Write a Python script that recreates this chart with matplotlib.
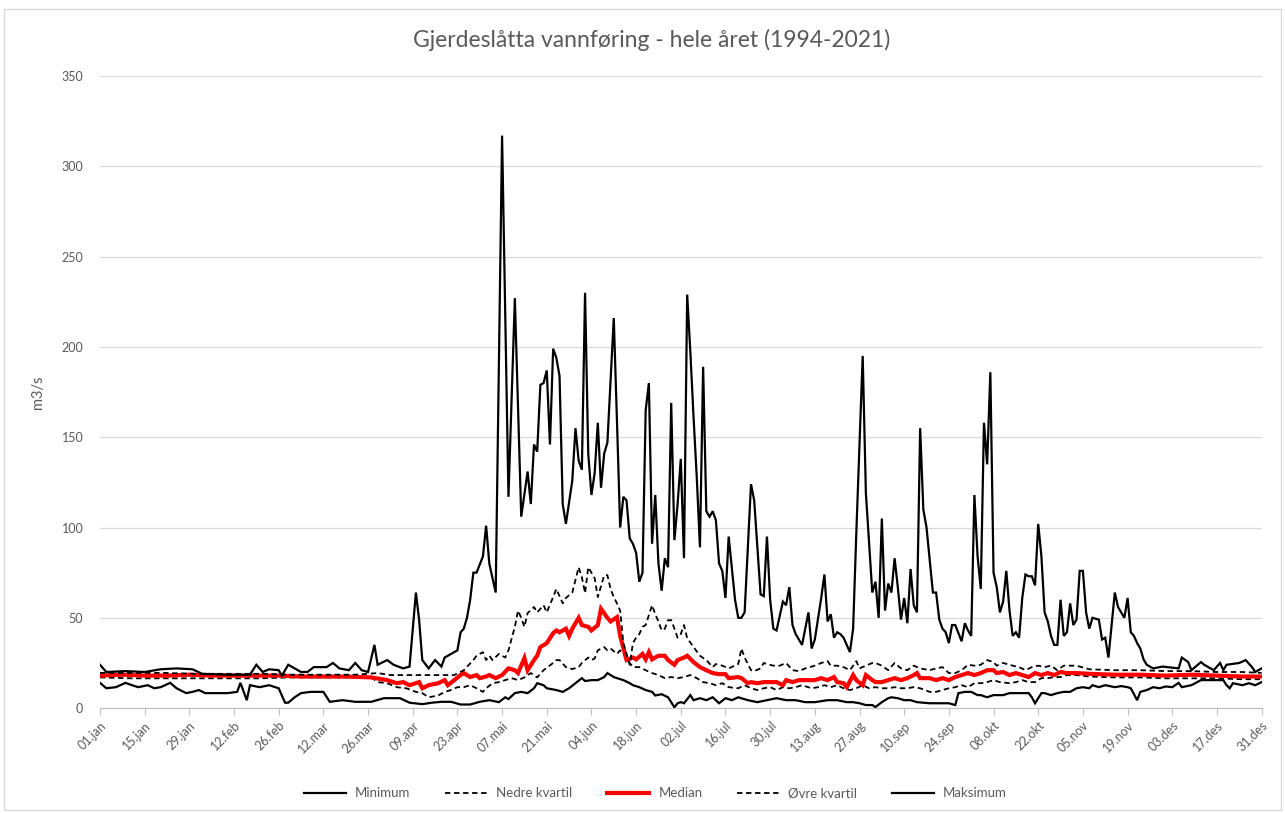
import matplotlib
matplotlib.use("Agg")
import matplotlib.pyplot as plt
from matplotlib.patches import Rectangle

# (day of year, m3/s)
minimum = [(0, 14), (2, 11), (5, 11.6), (8, 14), (10, 12.7), (12, 11.6), (15, 12.7), (17, 11), (19, 11.6),
           (22, 14), (24, 11), (27, 8.3), (29, 9), (31, 10), (33, 8.3), (36, 8.3), (40, 8.3), (43, 9),
           (44, 14), (46, 4.4), (47, 12.7), (50, 11.6), (53, 12.7), (56, 11), (58, 3), (59, 3), (61, 6),
           (63, 8.3), (66, 9), (70, 9), (72, 3.5), (76, 4.4), (80, 3.5), (85, 3.5), (89, 5.5), (94, 5.5),
           (97, 3), (101, 2.2), (104, 3), (107, 3.5), (110, 3.5), (113, 2), (116, 2), (119, 3.5), (122, 4.4),
           (125, 3.3), (127, 6), (128, 5), (130, 8.3), (132, 9), (134, 8.3), (136, 11), (137, 13.8),
           (139, 12.7), (140, 11), (143, 10), (145, 9), (147, 11), (149, 13.8), (151, 16.6), (152, 15),
           (154, 15.5), (156, 15.5), (158, 17.2), (159, 19.4), (161, 17.2), (162, 16.6), (164, 15.5),
           (166, 13.8), (167, 12.7), (169, 11.6), (171, 10), (173, 9), (174, 7), (176, 7.7), (178, 6),
           (180, 0.5), (181, 2.7), (182, 3.3), (183, 2.7), (185, 7.2), (186, 4.4), (188, 5.5), (190, 4.4),
           (192, 6), (194, 2.7), (196, 5.5), (198, 4.4), (200, 6), (203, 4.4), (206, 3.3), (209, 4.4),
           (212, 5.5), (215, 4.4), (218, 4.4), (221, 3.3), (224, 3.3), (228, 4.4), (231, 4.4), (234, 3.3),
           (236, 3.3), (238, 2.7), (240, 1.7), (242, 1.7), (243, 0.6), (245, 3.3), (247, 5.5), (248, 6),
           (250, 5.5), (252, 4.4), (254, 4.4), (256, 3.3), (260, 2.7), (263, 2.7), (266, 2.7), (268, 1.7),
           (269, 8.3), (271, 9), (273, 9), (275, 7.2), (276, 7.2), (278, 6), (280, 7.2), (283, 7.2),
           (285, 8.3), (287, 8.3), (289, 8.3), (291, 8.3), (292, 6), (293, 2.7), (295, 8.3), (296, 8.3),
           (298, 7.2), (300, 8.3), (302, 9), (304, 9), (306, 11), (308, 11.6), (310, 11), (311, 12.7),
           (313, 11.6), (315, 12.7), (318, 11.6), (320, 12.2), (322, 11.6), (323, 11), (325, 4.4), (326, 9),
           (328, 10), (330, 11.6), (332, 11), (334, 12), (336, 11.6), (338, 14), (339, 11.6), (342, 12.7),
           (344, 14.6), (345, 15.5), (348, 15.5), (352, 15.5), (353, 12.7), (354, 11), (355, 13.8),
           (358, 12.7), (360, 13.8), (362, 12.7), (364, 14.4)]

nedre = [(0, 17), (10, 16.5), (20, 16.5), (30, 16.5), (40, 16.5), (50, 16.5), (60, 17), (70, 17), (80, 17),
         (85, 17), (87, 14.4), (90, 13.8), (93, 11.6), (96, 11), (99, 9), (101, 8.3), (103, 6), (106, 7),
         (108, 9), (110, 10), (112, 11.6), (114, 11.6), (116, 12.7), (118, 11), (120, 9), (121, 11),
         (123, 13.8), (125, 14.4), (127, 15.5), (129, 16.6), (131, 15.5), (133, 17), (135, 19.4), (137, 17),
         (139, 21), (142, 25), (143, 26.6), (144, 26.6), (146, 22.7), (148, 21.6), (150, 22.7), (151, 25),
         (153, 28), (154, 26.6), (155, 27.5), (156, 32), (158, 33.8), (159, 32), (160, 33), (162, 30),
         (163, 32), (164, 30), (166, 25), (167, 22.7), (169, 22.7), (171, 21), (173, 19.4), (175, 18.3),
         (177, 16.6), (179, 17.2), (181, 16.6), (183, 17.2), (185, 18.3), (187, 16.6), (189, 14.4),
         (191, 13.8), (193, 12.7), (195, 13.8), (197, 11.6), (200, 11), (202, 12.7), (204, 11), (206, 10),
         (208, 11), (210, 11.6), (212, 10), (214, 11.6), (216, 11), (218, 11.6), (220, 12.7), (223, 11),
         (225, 11.6), (227, 12.7), (229, 11.6), (231, 12.7), (233, 11), (235, 10), (237, 11), (239, 12.7),
         (241, 11), (243, 11.6), (245, 11), (247, 11), (249, 11.6), (251, 11), (253, 11), (255, 11.6),
         (257, 11), (260, 9), (262, 9), (264, 10), (266, 11), (268, 11.6), (270, 12.7), (272, 11.6),
         (274, 13.8), (276, 13.8), (278, 14.4), (280, 15.5), (282, 14.4), (285, 13.8), (287, 14.4),
         (289, 15.5), (291, 14.4), (293, 14.4), (295, 16.6), (297, 16.6), (299, 17.2), (301, 17.2),
         (303, 18.3), (306, 18.3), (310, 17.5), (318, 17), (326, 17), (334, 16.5), (342, 16.5), (350, 16.5),
         (358, 16), (364, 16)]

median = [(0, 18), (7, 18.5), (14, 18), (21, 18), (28, 18.5), (35, 18), (42, 18), (49, 18), (56, 18),
          (63, 17.5), (70, 17.5), (77, 17.5), (85, 17), (87, 16.4), (90, 15.5), (93, 13.8), (95, 14.4),
          (97, 12.7), (100, 14.4), (101, 11), (103, 12.7), (106, 13.8), (108, 15.5), (109, 12.7), (111, 15.5),
          (113, 18.3), (114, 19.4), (116, 17.2), (118, 18.3), (119, 16.6), (121, 17.5), (122, 18.3),
          (124, 16.6), (126, 18.3), (128, 22), (130, 21), (131, 19.4), (133, 27.7), (134, 21), (136, 26.6),
          (137, 29), (138, 33.8), (140, 36), (142, 41.5), (143, 43), (144, 42), (146, 44), (147, 40),
          (148, 44), (150, 50), (151, 46), (153, 45), (154, 43), (156, 46), (157, 55), (159, 50), (160, 48),
          (162, 50.4), (163, 40), (165, 26.6), (167, 28), (168, 27), (170, 30), (171, 27), (172, 31),
          (173, 27), (175, 29), (177, 29), (178, 26.6), (180, 24), (181, 26.6), (183, 28), (184, 29),
          (186, 25.5), (188, 22.7), (190, 21), (192, 19.4), (194, 18.8), (196, 18.8), (197, 16.6),
          (200, 17.2), (201, 16.6), (203, 13.8), (204, 14.4), (206, 13.8), (208, 14.4), (210, 14.4),
          (212, 14.4), (214, 12.7), (215, 15.5), (217, 14.4), (219, 15.5), (221, 15.5), (224, 15.5),
          (226, 16.6), (228, 15.5), (230, 17.2), (231, 14.4), (233, 13.8), (234, 11.6), (236, 18.3),
          (237, 15.5), (239, 12.7), (240, 18.3), (242, 15.5), (243, 14.4), (245, 14.4), (247, 15.5),
          (249, 16.6), (251, 15.5), (253, 16.6), (255, 18.3), (256, 19.4), (257, 16.6), (260, 16.6),
          (262, 15.5), (264, 16.6), (266, 15.5), (268, 17.2), (270, 18.3), (272, 19.4), (274, 18.3),
          (276, 19.4), (278, 21), (280, 21), (281, 19.4), (283, 20), (285, 18.3), (287, 19.4), (289, 18.3),
          (291, 17.2), (293, 19.4), (295, 18.3), (297, 19.4), (299, 18.3), (301, 20), (303, 19.4),
          (306, 19.4), (310, 19), (318, 18.5), (326, 18.5), (334, 18), (342, 18.5), (350, 18), (358, 17.5),
          (364, 17.5)]

ovre = [(0, 19.5), (10, 19.5), (20, 19.5), (30, 19), (40, 19), (50, 19), (60, 18.5), (70, 18.5), (80, 18.5),
        (87, 19.4), (91, 18.3), (100, 18.3), (111, 18.3), (114, 21), (117, 26.6), (118, 29), (120, 31),
        (121, 26.6), (122, 29), (123, 26.6), (125, 30), (127, 28), (128, 32), (130, 45), (131, 54), (132, 50),
        (133, 45), (134, 52.6), (136, 56), (137, 53), (139, 57), (140, 53), (142, 61.5), (143, 66), (145, 58),
        (146, 61), (148, 64), (150, 78), (151, 72.5), (152, 63.7), (153, 78), (155, 72), (156, 61.5),
        (158, 73.6), (159, 73.6), (160, 66), (161, 61.5), (162, 58), (163, 54), (164, 36), (166, 24),
        (167, 36), (168, 39), (169, 41), (170, 45), (171, 46), (172, 51.5), (173, 57), (174, 52), (175, 48),
        (176, 43), (177, 44), (178, 48.7), (179, 48.7), (180, 44), (181, 39), (182, 41), (183, 46),
        (184, 38.7), (186, 33.8), (188, 29), (190, 26.6), (192, 22.7), (193, 24.4), (195, 23.5), (197, 22),
        (200, 24.4), (201, 33), (202, 28), (204, 21), (205, 20.5), (207, 22), (208, 25), (209, 24.4),
        (211, 23.5), (213, 23.5), (215, 25), (217, 21), (219, 20.5), (221, 22), (224, 23.5), (226, 25),
        (228, 26), (229, 23.5), (231, 23.5), (233, 22.7), (235, 21), (237, 26), (238, 22), (240, 23.5),
        (242, 25), (243, 25), (245, 23.5), (247, 21), (249, 25), (251, 22), (253, 21), (255, 23.5), (257, 22),
        (260, 21), (262, 22), (264, 22.7), (266, 19.4), (268, 19.4), (270, 21), (272, 24), (274, 23.5),
        (276, 24), (278, 26.6), (280, 25.5), (281, 23.5), (283, 25), (286, 23.5), (288, 22.7), (290, 21),
        (292, 22.7), (294, 23.5), (296, 22.7), (298, 23.5), (300, 21), (302, 23.5), (306, 23.5), (310, 21.5),
        (318, 21), (326, 21), (334, 20.5), (342, 20.5), (350, 20), (358, 20), (364, 19.5)]

maksimum = [(0, 24), (2, 20), (8, 20.5), (14, 20), (19, 21.5), (24, 22), (29, 21.5), (32, 19), (40, 18.5),
            (47, 18.5), (49, 24), (51, 20), (53, 21.5), (56, 21), (57, 18), (59, 24), (63, 20), (65, 20),
            (67, 22.7), (71, 22.7), (73, 25), (75, 22), (78, 21), (80, 25), (82, 21), (84, 20), (86, 35),
            (87, 24), (90, 26.6), (92, 24), (95, 22), (97, 23), (99, 64), (100, 49), (101, 26.6), (103, 22),
            (105, 26.6), (107, 23), (108, 28), (110, 30), (112, 32), (113, 42), (114, 44), (115, 50), (116, 60),
            (117, 75), (118, 75), (120, 84), (121, 101), (122, 80), (124, 64), (126, 317), (128, 117),
            (130, 227), (132, 106), (134, 131), (135, 113), (136, 146), (137, 142), (138, 179), (139, 180),
            (140, 187), (141, 146), (142, 199), (143, 194), (144, 184), (145, 113), (146, 102), (148, 126),
            (149, 155), (150, 137), (151, 132), (152, 230), (153, 141), (154, 118), (155, 130), (156, 158),
            (157, 122), (158, 141), (159, 147), (161, 216), (162, 159), (163, 100), (164, 117), (165, 115),
            (166, 94), (167, 91), (168, 86), (169, 70), (170, 75), (171, 165), (172, 180), (173, 91),
            (174, 118), (175, 80), (176, 65), (177, 83), (178, 78), (179, 169), (180, 93), (181, 113),
            (182, 138), (183, 83), (184, 229), (185, 197), (186, 161), (187, 128), (188, 89), (189, 189),
            (190, 109), (191, 106), (192, 109), (193, 104), (194, 80), (195, 76), (196, 61), (197, 95),
            (199, 60), (200, 50), (201, 50), (202, 53), (204, 124), (205, 115), (207, 63), (208, 62), (209, 95),
            (210, 60), (211, 44), (212, 43), (214, 59), (215, 57), (216, 67), (217, 46), (218, 41), (220, 35),
            (222, 53), (223, 33), (224, 38), (226, 61), (227, 74), (228, 48), (229, 52), (230, 39), (231, 42),
            (232, 41), (233, 39), (235, 31), (236, 44), (237, 97), (239, 195), (240, 119), (242, 64), (243, 70),
            (244, 50), (245, 105), (246, 54), (247, 69), (248, 64), (249, 83), (250, 67), (251, 49), (252, 61),
            (253, 47), (254, 77), (255, 57), (256, 53), (257, 155), (258, 110), (259, 100), (261, 64), (262, 64),
            (263, 49), (264, 44), (265, 42), (266, 36), (267, 46), (268, 46), (270, 37), (271, 47), (272, 43),
            (273, 40), (274, 118), (275, 84), (276, 66), (277, 158), (278, 135), (279, 186), (280, 75),
            (281, 67), (282, 53), (283, 59), (284, 76), (285, 54), (286, 40), (287, 42), (288, 39), (289, 61),
            (290, 74), (291, 73), (292, 73), (293, 68), (294, 102), (295, 84), (296, 53), (297, 48), (298, 40),
            (299, 35), (300, 35), (301, 60), (302, 40), (303, 42), (304, 58), (305, 46), (306, 49), (307, 76),
            (308, 76), (309, 53), (310, 44), (311, 50), (313, 49), (314, 38), (315, 39), (316, 28), (318, 64),
            (319, 56), (321, 50), (322, 61), (323, 42), (324, 40), (325, 36), (326, 33), (327, 27), (328, 24),
            (330, 22), (333, 23), (338, 22), (339, 28), (341, 25.5), (342, 21), (345, 25.5), (346, 24),
            (349, 21), (351, 25), (352, 21), (353, 24), (357, 25), (359, 26.6), (361, 22.7), (362, 20),
            (364, 22)]

tick_labels = ["01.jan", "15.jan", "29.jan", "12.feb", "26.feb", "12.mar", "26.mar", "09.apr", "23.apr",
               "07.mai", "21.mai", "04.jun", "18.jun", "02.jul", "16.jul", "30.jul", "13.aug", "27.aug",
               "10.sep", "24.sep", "08.okt", "22.okt", "05.nov", "19.nov", "03.des", "17.des", "31.des"]

plt.rcParams["font.family"] = ["Lato", "DejaVu Sans"]
grey = "#595959"

fig = plt.figure(figsize=(12.85, 8.13), dpi=100)
ax = fig.add_axes([0.0778, 0.129, 0.904, 0.7775])

series = [
    ("Minimum", minimum, dict(color="black", lw=1.6)),
    ("Nedre kvartil", nedre, dict(color="black", lw=1.3, ls=(0, (3, 2)))),
    ("Median", median, dict(color="#ff0000", lw=3.0)),
    ("Øvre kvartil", ovre, dict(color="black", lw=1.3, ls=(0, (3, 2)))),
    ("Maksimum", maksimum, dict(color="black", lw=1.6)),
]
for name, pts, style in series:
    days, vals = zip(*pts)
    ax.plot(days, vals, label=name, solid_joinstyle="miter", **style)

ax.set_xlim(0, 364)
ax.set_ylim(0, 350)
ax.set_yticks(range(0, 351, 50))
ax.set_xticks(range(0, 365, 14))
ax.set_xticklabels(tick_labels, rotation=45, ha="right", rotation_mode="anchor")
ax.grid(axis="y", color="#d9d9d9", lw=0.9)
ax.set_axisbelow(True)
for s in ["top", "right", "left"]:
    ax.spines[s].set_visible(False)
ax.spines["bottom"].set_color("#bfbfbf")
ax.tick_params(axis="x", colors=grey, labelsize=9, length=5, color="#bfbfbf", pad=3)
ax.tick_params(axis="y", colors=grey, labelsize=9, length=0, pad=12)
ax.set_ylabel("m3/s", color=grey, fontsize=10.5, labelpad=12)

fig.text(0.507, 0.951, "Gjerdeslåtta vannføring - hele året (1994-2021)", ha="center", va="center",
         fontsize=16.5, color=grey)

fig.legend(loc="center", bbox_to_anchor=(0.51, 0.024), ncol=5, frameon=False, fontsize=9.5,
           handlelength=3.2, handletextpad=0.7, columnspacing=2.6, labelcolor=grey)

fig.add_artist(Rectangle((0.003, 0.004), 0.994, 0.985, transform=fig.transFigure,
                         fill=False, edgecolor="#d9d9d9", lw=1))

fig.savefig("out.png", dpi=100)
